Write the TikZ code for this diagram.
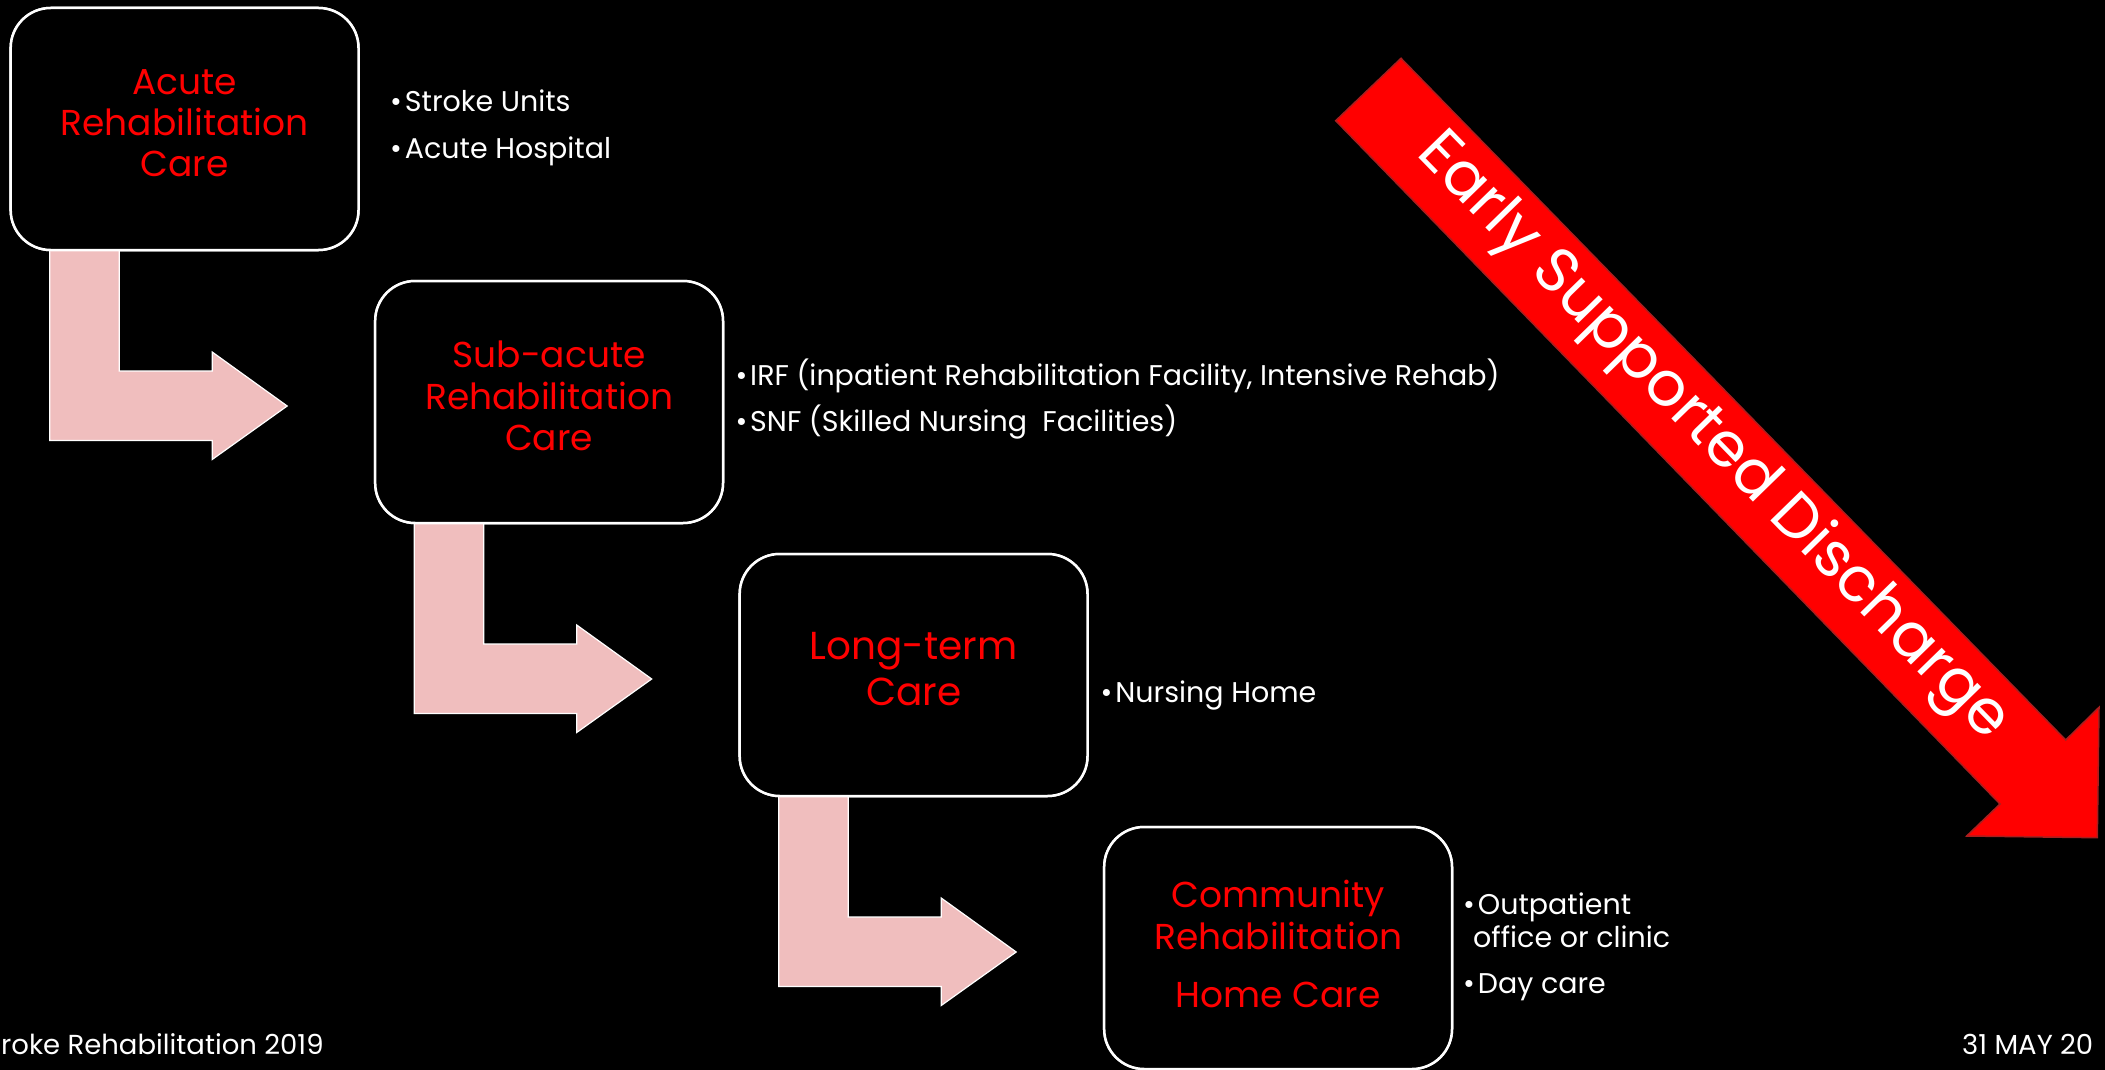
\documentclass[tikz,border=0pt]{standalone}
\usepackage{fontspec}
\setmainfont{Poppins}
\usetikzlibrary{calc}
\definecolor{pinkarrow}{RGB}{240,190,190}
\definecolor{esdred}{RGB}{255,0,0}
\definecolor{esdedge}{RGB}{170,30,30}
\tikzset{
  px/.style={x=1pt,y=-1pt},
  stagebox/.style={draw=white, line width=2.5pt, fill=black, rounded corners=40pt,
    minimum width=347.8pt, minimum height=242pt, outer sep=0pt, inner sep=0pt},
  stagetext/.style={text=esdred, align=center, font=\fontsize{36}{41.3}\selectfont, inner sep=0pt},
  bentarrow/.style={fill=pinkarrow, draw=white, line width=1.2pt, line join=miter},
  itemtext/.style={text=white, anchor=base west, inner sep=0pt, font=\fontsize{28.5}{32}\selectfont},
  foottext/.style={text=white, inner sep=0pt, font=\fontsize{27.5}{30}\selectfont},
}
\begin{document}
\begin{tikzpicture}[px]
\fill[black] (0,0) rectangle (2105,1070);
\useasboundingbox (0,0) rectangle (2105,1070);

% boxes (positions only)
\path (184.6,129) node[stagebox] (b1) {};
\path (549.1,402) node[stagebox] (b2) {};
\path (913.6,675) node[stagebox] (b3) {};
\path (1278.1,948) node[stagebox] (b4) {};

% bent arrows
\foreach \a/\b in {b1/b2,b2/b3,b3/b4}{
  \draw[bentarrow]
    ($(\a.south west)+(39,0)$) -- ($(\a.south west)+(39,190.5)$)
    -- ($(\a.south west)+(201.5,190.5)$) -- ($(\a.south west)+(201.5,209.5)$)
    -- ($(\a.south west)+(276.5,156)$) -- ($(\a.south west)+(201.5,102)$)
    -- ($(\a.south west)+(201.5,121)$) -- ($(\a.south west)+(108.5,121)$)
    -- ($(\a.south west)+(108.5,0)$) -- cycle;
}

% redraw boxes on top
\path (184.6,129) node[stagebox] (c1) {};
\path (549.1,402) node[stagebox] (c2) {};
\path (913.6,675) node[stagebox] (c3) {};
\path (1278.1,948) node[stagebox] (c4) {};

\node[stagetext] (t1) at ([yshift=6pt]b1.center) {Acute\\Rehabilitation\\Care};
\node[stagetext] (t2) at ([yshift=6pt]b2.center) {Sub-acute\\Rehabilitation\\Care};
\node[stagetext, font=\fontsize{39}{46.6}\selectfont] (t3) at ([yshift=6pt]b3.center) {Long-term\\Care};
\node[stagetext] (t4) at ([yshift=4pt]b4.center) {Community\\Rehabilitation\\[17pt]Home Care};

% bullet items
\node[itemtext] (i1) at (390,112) {•\hspace{3pt}Stroke Units};
\node[itemtext] (i2) at (390,158.4) {•\hspace{3pt}Acute Hospital};
\node[itemtext] (i3) at (735.3,385) {•\hspace{3pt}IRF (inpatient Rehabilitation Facility, Intensive Rehab)};
\node[itemtext] (i4) at (735.3,431.4) {•\hspace{3pt}SNF (Skilled Nursing\ \ Facilities)};
\node[itemtext] (i5) at (1100.5,702.2) {•\hspace{3pt}Nursing Home};
\node[itemtext] (i6) at (1463,914.5) {•\hspace{3pt}Outpatient};
\node[itemtext] (i7) at (1473,947.3) {office or clinic};
\node[itemtext] (i8) at (1463,993) {•\hspace{3pt}Day care};

% early supported discharge arrow
\draw[fill=esdred, draw=esdedge, line width=1.5pt, line join=miter]
  (1401,58.3) -- (2065.7,740) -- (2099,707.3) -- (2097.3,837.7)
  -- (1966.7,836) -- (2000,804) -- (1335.7,120.7) -- cycle;
\node[text=white, rotate=-45.76, inner sep=0pt, font=\fontsize{62}{66}\selectfont] (esd) at (1712,438) {Early Supported Discharge};

% footer
\node[foottext, anchor=base west] (f1) at (1,1054) {roke Rehabilitation 2019};
\node[foottext, anchor=base west] (f2) at (1962,1054) {31 MAY 20};
\end{tikzpicture}
\end{document}
